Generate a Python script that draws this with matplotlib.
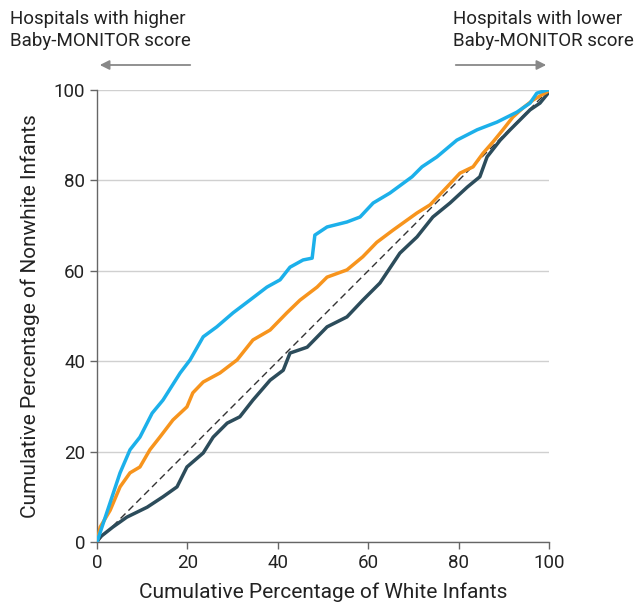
"""
Cumulative share of nonwhite vs white infants across hospitals
"""

import matplotlib.pyplot as plt
from matplotlib.patches import FancyArrowPatch

# light blue curve
blue_x = [0, 1, 2, 3, 4, 5.1, 7.3, 9.5, 12.2, 14.6, 18.4, 20.6, 23.5, 26.5, 30.1, 33.8,
          37.6, 40.5, 42.7, 45.6, 47.6, 48.2, 50.9, 55.3, 58.2, 61.1, 64.8, 69.7, 71.9,
          75.2, 79.6, 84.1, 88.5, 92.9, 95.8, 97.3, 99.6, 100]
blue_y = [0, 3, 6, 9, 12, 15.3, 20.4, 23.2, 28.5, 31.4, 37.4, 40.3, 45.4, 47.6, 50.7, 53.5,
          56.4, 58.0, 60.8, 62.4, 62.8, 67.9, 69.7, 70.8, 71.9, 75.0, 77.2, 80.8, 83.0,
          85.2, 88.9, 91.2, 92.9, 95.1, 97.1, 99.3, 100, 100]

# orange curve
orange_x = [0, 0.7, 2.9, 5.1, 7.3, 9.5, 11.7, 13.9, 16.8, 19.9, 21.2, 23.5, 27.2, 31.0,
            34.5, 38.3, 42.0, 44.9, 48.7, 50.9, 55.3, 58.8, 61.9, 65.5, 70.8, 73.7, 77.4,
            80.3, 83.2, 85.4, 87.6, 89.8, 92.0, 94.2, 96.5, 99.6, 100]
orange_y = [0, 3.3, 7.0, 12.2, 15.3, 16.6, 20.4, 23.2, 27.0, 29.9, 33.0, 35.4, 37.4, 40.3,
            44.7, 46.9, 50.7, 53.5, 56.4, 58.6, 60.2, 63.1, 66.3, 69.0, 72.8, 74.6, 78.5,
            81.6, 83.0, 86.0, 88.5, 91.2, 94.0, 96.0, 97.8, 99.6, 100]

# dark slate curve
dark_x = [0, 0.7, 3.5, 6.6, 11.1, 14.6, 17.7, 19.9, 23.5, 25.7, 28.8, 31.6, 34.5, 38.3,
          41.2, 42.7, 46.5, 50.9, 55.3, 58.8, 62.6, 67.0, 70.8, 74.3, 78.1, 81.9, 84.7,
          86.3, 89.2, 91.4, 93.6, 95.8, 98.0, 99.8, 100]
dark_y = [0, 1.1, 3.3, 5.5, 7.7, 10.0, 12.2, 16.6, 19.7, 23.2, 26.3, 27.7, 31.4, 35.8,
          38.0, 41.8, 43.1, 47.6, 49.8, 53.5, 57.3, 63.9, 67.5, 71.9, 75.0, 78.5, 80.8,
          85.2, 88.9, 91.2, 93.4, 95.6, 97.1, 99.3, 100]

ticks = [0, 20, 40, 60, 80, 100]

plt.rcParams['font.family'] = ['Roboto', 'DejaVu Sans']

fig = plt.figure(figsize=(6.39, 6.12), dpi=100)
ax = fig.add_axes([97 / 639, 1 - 542 / 612, 452 / 639, 452 / 612])

ax.plot([0, 100], [0, 100], color='#333333', lw=1.0, ls=(0, (5, 3)), zorder=2)
ax.plot(dark_x, dark_y, color='#2c4c5b', lw=2.5, zorder=3)
ax.plot(orange_x, orange_y, color='#f7941d', lw=2.5, zorder=4)
ax.plot(blue_x, blue_y, color='#1cb0ea', lw=2.5, zorder=5)

ax.set_xlim(0, 100)
ax.set_ylim(0, 100)
ax.set_xticks(ticks)
ax.set_yticks(ticks)
ax.grid(axis='y', color='#d0d0d0', lw=1.0)
ax.set_axisbelow(True)
for s in ['top', 'right']:
    ax.spines[s].set_visible(False)
for s in ['left', 'bottom']:
    ax.spines[s].set_color('#666666')
    ax.spines[s].set_linewidth(1.0)
ax.tick_params(colors='#666666', labelcolor='#222222', labelsize=13.5, length=5, width=1.0)

ax.set_xlabel('Cumulative Percentage of White Infants', fontsize=15, color='#222222', labelpad=8)
ax.set_ylabel('Cumulative Percentage of Nonwhite Infants', fontsize=15, color='#222222', labelpad=10)

# header notes with arrows
fig.text(10 / 639, 1 - 30 / 612, 'Hospitals with higher\nBaby-MONITOR score', fontsize=13.5,
         color='#222222', va='center', ha='left', linespacing=1.3)
fig.text(453 / 639, 1 - 30 / 612, 'Hospitals with lower\nBaby-MONITOR score', fontsize=13.5,
         color='#222222', va='center', ha='left', linespacing=1.3)
fig.patches.append(FancyArrowPatch(
    (193 / 639, 1 - 65 / 612), (97 / 639, 1 - 65 / 612), transform=fig.transFigure,
    arrowstyle='-|>', mutation_scale=14, color='#888888', lw=1.3))
fig.patches.append(FancyArrowPatch(
    (453 / 639, 1 - 65 / 612), (549 / 639, 1 - 65 / 612), transform=fig.transFigure,
    arrowstyle='-|>', mutation_scale=14, color='#888888', lw=1.3))

fig.savefig('out.png', dpi=100)
